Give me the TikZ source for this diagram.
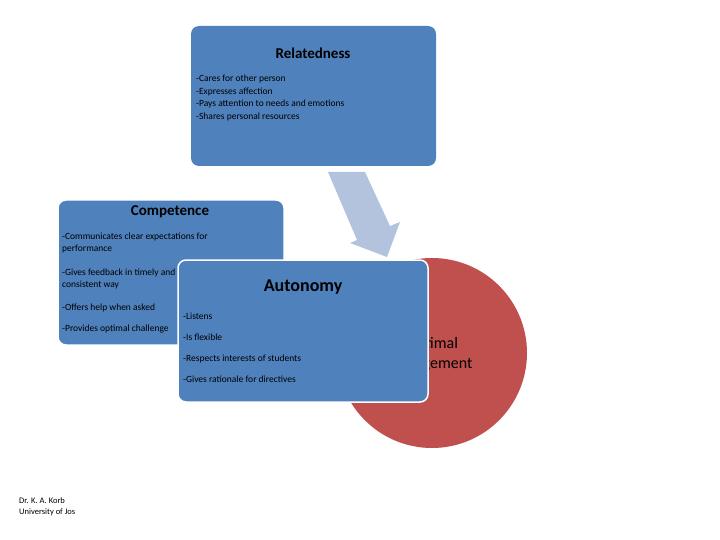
\documentclass[tikz,border=0pt]{standalone}
\usepackage{fontspec}
\setmainfont{Carlito}
\usetikzlibrary{positioning}
\definecolor{boxblue}{HTML}{4F81BD}
\definecolor{arrowblue}{HTML}{B3C3DE}
\definecolor{circred}{HTML}{C0504D}
\tikzset{
  panel/.style={fill=boxblue, draw=white, line width=1.5pt, rounded corners=8pt},
  heading/.style={font=\fontsize{15}{18}\selectfont\bfseries, inner sep=0pt},
  items/.style={font=\fontsize{9.5}{12.5}\selectfont, align=left, anchor=north west, inner sep=0pt},
}
\begin{document}
\begin{tikzpicture}[x=1pt, y=-1pt]
  \useasboundingbox (0,0) rectangle (720,540);
  % red circle behind
  \node[circle, fill=circred, minimum size=190pt, inner sep=0pt] (engage) at (432,353) {};
  \node[font=\fontsize{16}{20}\selectfont, align=center] (engtext) at (432,354) {Optimal\\Engagement};
  % block arrow
  \fill[arrowblue] (328,172) -- (365,172) -- (390,226) -- (400,222) -- (387,257) -- (350,243) -- (357,240) -- cycle;
  % relatedness
  \draw[panel, draw=none] (191,26) rectangle (436,166);
  \node[heading] (relh) at (313,53) {Relatedness};
  \node[items] (reli) at (196,75) {-Cares for other person\\-Expresses affection\\-Pays attention to needs and emotions\\-Shares personal resources};
  % competence
  \draw[panel] (58,200) rectangle (284,345);
  \node[heading] (comh) at (170,212) {Competence};
  \node[items, font=\fontsize{9.5}{11.5}\selectfont] (comi) at (62,233) {-Communicates clear expectations for\\performance};
  \node[items, font=\fontsize{9.5}{11.5}\selectfont] (comj) at (62,269) {-Gives feedback in timely and\\consistent way};
  \node[items] (comk) at (62,304) {-Offers help when asked};
  \node[items] (coml) at (62,325) {-Provides optimal challenge};
  % autonomy
  \draw[panel] (178,260) rectangle (428,402);
  \node[heading, font=\fontsize{18}{20}\selectfont\bfseries] (auth) at (303,287) {Autonomy};
  \node[items, font=\fontsize{9.5}{21}\selectfont] (auti) at (183,313) {-Listens\\-Is flexible\\-Respects interests of students\\-Gives rationale for directives};
  % credit
  \node[items, font=\fontsize{8.5}{11}\selectfont] (credit) at (19,497) {Dr. K. A. Korb\\University of Jos};
\end{tikzpicture}
\end{document}
